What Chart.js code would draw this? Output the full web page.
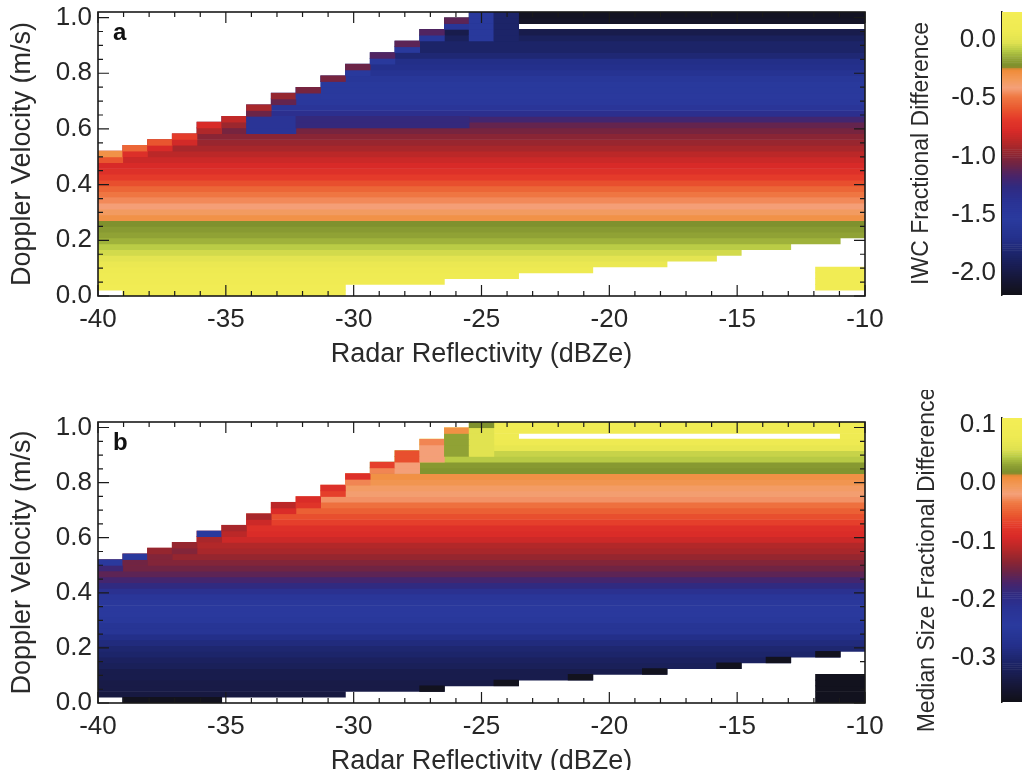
<!DOCTYPE html>
<html>
<head>
<meta charset="utf-8">
<title>IWC and median size fractional difference</title>
<script src="https://cdn.jsdelivr.net/npm/chart.js@4.4.1/dist/chart.umd.min.js"></script>
<style>
  html, body { margin: 0; padding: 0; background: #fff; }
  body { width: 1022px; height: 770px; overflow: hidden; position: relative; }
  canvas { position: absolute; }
</style>
</head>
<body>
<canvas id="heatA" width="900" height="380" style="left:0;top:0"></canvas>
<canvas id="barA" width="150" height="380" style="left:890px;top:0"></canvas>
<canvas id="heatB" width="900" height="380" style="left:0;top:410px"></canvas>
<canvas id="barB" width="150" height="380" style="left:890px;top:390px"></canvas>
<script>
// reflectivity bins (dBZe), one column each, spread over the -40..-10 axis
const dbzBins = [-40, -39, -38, -37, -36, -35, -34, -33, -32, -31, -30, -29, -28, -27, -26, -25,
                 -24, -23, -22, -21, -20, -19, -18, -17, -16, -15, -14, -13, -12, -11, -10];
const dbzRange = [-40, -10];
// doppler velocity bins: 49 rows from 0 to 1.02 m/s
const velRange = [0, 1.02];
const rowCount = 49;

const xTicks = [-40, -35, -30, -25, -20, -15, -10];
const yTicks = [0, 0.2, 0.4, 0.6, 0.8, 1.0];
const iwcTicks = [0.0, -0.5, -1.0, -1.5, -2.0];
const sizeTicks = [0.1, 0.0, -0.1, -0.2, -0.3];
const iwcRange = [-2.19, 0.24];
const sizeRange = [-0.375, 0.112];

// panel a: IWC fractional difference, one value per velocity row (bottom to top)
const iwcRows = [0.15, 0.15, 0.13, 0.11, 0.08, 0.05, 0.0, -0.05, -0.09, -0.14, -0.17, -0.19, -0.22,
  -0.30, -0.36, -0.42, -0.46, -0.50, -0.55, -0.62, -0.68, -0.74, -0.78, -0.82, -0.87, -0.92, -0.96,
  -1.00, -1.05, -1.10, -1.20, -1.35, -1.45, -1.50, -1.52, -1.55, -1.55, -1.58, -1.65, -1.70, -1.72,
  -1.80, -1.85, -1.85, -1.90, -1.97, -2.00, -2.12, -2.14];
// highest / lowest filled row of every column (row counts)
const iwcTop = [25, 26, 27, 28, 30, 31, 33, 35, 36, 38, 40, 42, 44, 46, 48,
  49, 49, 49, 49, 49, 49, 49, 49, 49, 49, 49, 49, 49, 49, 49, 49];
const iwcBottom = [1, 0, 0, 0, 0, 0, 0, 0, 0, 0, 2, 2, 2, 2, 3, 3, 3, 4, 4, 4, 5, 5, 5, 6, 6, 7, 8, 8, 9, 9, 10];
// values of the top cell and the one below it along the upper edge
const iwcCap = [-0.30, -0.55, -0.60, -0.68, -0.78, -0.85, -0.92, -0.97, -1.05, -1.05, -1.08, -1.15, -1.12, -1.15, -1.12,
  null, null, null, null, null, null, null, null, null, null, null, null, null, null, null, null];
const iwcCap2 = [-0.60, -0.75, -0.78, -0.80, -0.90, -0.95, -1.08, -1.10, -1.50, -1.55, -1.55, -1.55, -1.55, -1.58, -1.60,
  null, null, null, null, null, null, null, null, null, null, null, null, null, null, null, null];
// [firstCol, lastCol, firstRow, lastRow, value]
const iwcPatches = [[6, 7, 28, 30, -1.42], [8, 14, 29, 30, -1.25], [15, 15, 44, 48, -1.55], [16, 16, 44, 48, -1.85]];
const iwcBlocks = [[29, 30, 1, 4, 0.15]];
// [firstCol, lastCol, row] with no data
const iwcGaps = [[17, 30, 46]];

// panel b: median size fractional difference
const sizeRows = [-0.345, -0.34, -0.335, -0.335, -0.33, -0.33, -0.32, -0.315, -0.305, -0.30, -0.29, -0.28,
  -0.26, -0.26, -0.25, -0.24, -0.24, -0.235, -0.23, -0.21, -0.19, -0.175, -0.16, -0.15, -0.14, -0.13,
  -0.12, -0.115, -0.10, -0.09, -0.085, -0.07, -0.06, -0.05, -0.04, -0.025, -0.015, -0.01, 0.0, 0.005,
  0.022, 0.025, 0.045, 0.05, 0.07, 0.08, 0.085, 0.09, 0.092];
const sizeTop = [25, 26, 27, 28, 30, 31, 33, 35, 36, 38, 40, 42, 44, 46, 48,
  49, 49, 49, 49, 49, 49, 49, 49, 49, 49, 49, 49, 49, 49, 49, 49];
const sizeBottom = [1, 0, 0, 0, 0, 1, 1, 1, 1, 1, 2, 2, 2, 2, 3, 3, 3, 4, 4, 4, 5, 5, 5, 6, 6, 6, 7, 7, 8, 8, 9];
const sizeCap = [-0.24, -0.24, -0.13, -0.13, -0.24, -0.12, -0.12, -0.11, -0.09, -0.085, -0.085, -0.07, -0.06, -0.03, 0.005, 0.02,
  null, null, null, null, null, null, null, null, null, null, null, null, null, null, null];
const sizeCap2 = [-0.18, -0.15, -0.14, -0.14, -0.12, -0.11, -0.10, -0.09, -0.08, -0.07, -0.03, -0.03, -0.06, -0.02, 0.03, 0.06,
  null, null, null, null, null, null, null, null, null, null, null, null, null, null, null];
const sizePatches = [[12, 12, 40, 41, -0.02], [13, 13, 42, 43, -0.02], [14, 14, 43, 45, 0.03], [15, 15, 43, 46, 0.06]];
const sizeBlocks = [[29, 30, 0, 4, -0.37]];
const sizeGaps = [[17, 29, 46]];
// columns whose lowest cell is near the colour-scale minimum
const sizeDarkBottom = [1, 2, 3, 4, 13, 16, 19, 22, 25, 27, 29];
const sizeDarkValue = -0.37;

// colour table, bottom (0) to top (1)
const cmapStops = [
  [0.00, '#111118'], [0.04, '#15152e'], [0.09, '#181c4c'], [0.14, '#1c2468'], [0.20, '#24308c'],
  [0.27, '#2a3a9e'], [0.33, '#2a3294'], [0.38, '#302a80'], [0.42, '#4a2468'], [0.46, '#6e2444'],
  [0.50, '#922630'], [0.54, '#b82828'], [0.58, '#d82a28'], [0.62, '#e43a2a'], [0.66, '#ea5a30'],
  [0.70, '#f07a44'], [0.73, '#f4a07a'], [0.76, '#f29a5a'], [0.795, '#f08a36'], [0.805, '#7a8c2c'],
  [0.83, '#8ea034'], [0.86, '#b4c844'], [0.89, '#e0e250'], [0.93, '#eeea52'], [1.00, '#f4ee56']
];

function hexRgb(h) {
  return [1, 3, 5].map(i => parseInt(h.substr(i, 2), 16));
}

function cmap(t) {
  t = Math.max(0, Math.min(1, t));
  for (let i = 1; i < cmapStops.length; i++) {
    if (t <= cmapStops[i][0]) {
      const t0 = cmapStops[i - 1][0], t1 = cmapStops[i][0];
      const c0 = hexRgb(cmapStops[i - 1][1]), c1 = hexRgb(cmapStops[i][1]);
      const f = (t - t0) / (t1 - t0);
      return 'rgb(' + c0.map((c, n) => Math.round(c + (c1[n] - c) * f)).join(',') + ')';
    }
  }
  return cmapStops[cmapStops.length - 1][1];
}

const colEdge = k => dbzRange[0] + k * (dbzRange[1] - dbzRange[0]) / dbzBins.length;
const rowCenter = j => velRange[0] + (j + 0.5) * (velRange[1] - velRange[0]) / rowCount;

// turn a grid of values into horizontal runs of equal value
function runs(grid, keep) {
  const out = [];
  grid.forEach((row, j) => {
    let k = 0;
    while (k < row.length) {
      if (row[k] === null || !keep(j, k)) { k++; continue; }
      let e = k;
      while (e + 1 < row.length && row[e + 1] === row[k] && keep(j, e + 1)) e++;
      out.push({ x: [colEdge(k), colEdge(e + 1)], y: rowCenter(j), v: row[k] });
      k = e + 1;
    }
  });
  return out;
}

function buildCells(p) {
  const base = [];
  for (let j = 0; j < rowCount; j++) {
    base.push(dbzBins.map((_, k) => (j >= p.bottom[k] && j < p.top[k]) ? p.rows[j] : null));
  }
  p.gaps.forEach(([k0, k1, j]) => { for (let k = k0; k <= k1; k++) base[j][k] = null; });
  p.blocks.forEach(([k0, k1, j0, j1, v]) => {
    for (let j = j0; j <= j1; j++) for (let k = k0; k <= k1; k++) base[j][k] = v;
  });
  const full = base.map(r => r.slice());
  dbzBins.forEach((_, k) => {
    const t = p.top[k];
    if (p.cap[k] !== null) full[t - 1][k] = p.cap[k];
    if (p.cap2[k] !== null) full[t - 2][k] = p.cap2[k];
  });
  p.patches.forEach(([k0, k1, j0, j1, v]) => {
    for (let j = j0; j <= j1; j++) for (let k = k0; k <= k1; k++) if (base[j][k] !== null) full[j][k] = v;
  });
  (p.darkBottom || []).forEach(k => { full[p.bottom[k]][k] = p.darkValue; });
  return {
    body: runs(base, () => true),
    over: runs(full, (j, k) => full[j][k] !== base[j][k])
  };
}

Chart.defaults.font.family = '"Liberation Sans", Arial, sans-serif';
Chart.defaults.color = '#262626';

// box, inward ticks on all four sides and the panel letter
const panelFrame = {
  id: 'panelFrame',
  afterDatasetsDraw(chart, args, opts) {
    const { ctx, chartArea: a, scales: { x, y } } = chart;
    ctx.save();
    ctx.strokeStyle = '#1a1a1a';
    ctx.lineWidth = 1.2;
    ctx.beginPath();
    for (let v = dbzRange[0]; v <= dbzRange[1]; v++) {
      const px = x.getPixelForValue(v);
      const len = v % 5 === 0 ? 11 : 5;
      ctx.moveTo(px, a.bottom); ctx.lineTo(px, a.bottom - len);
      ctx.moveTo(px, a.top); ctx.lineTo(px, a.top + len);
    }
    for (let i = 0; i <= 20; i++) {
      const py = y.getPixelForValue(i * 0.05);
      const len = i % 4 === 0 ? 11 : 5;
      ctx.moveTo(a.left, py); ctx.lineTo(a.left + len, py);
      ctx.moveTo(a.right, py); ctx.lineTo(a.right - len, py);
    }
    ctx.stroke();
    ctx.lineWidth = 1.6;
    ctx.strokeRect(a.left, a.top, a.right - a.left, a.bottom - a.top);
    ctx.fillStyle = '#111';
    ctx.font = 'bold 24px "Liberation Sans", Arial, sans-serif';
    ctx.fillText(opts.letter, a.left + 15, a.top + 28);
    ctx.restore();
  }
};

function heatmap(id, p, letter, pad) {
  const cells = buildCells(p);
  const col = v => cmap((v - p.range[0]) / (p.range[1] - p.range[0]));
  new Chart(document.getElementById(id), {
    type: 'bar',
    data: {
      datasets: [
        { data: cells.body, backgroundColor: cells.body.map(c => col(c.v)), order: 2 },
        { data: cells.over, backgroundColor: cells.over.map(c => col(c.v)), order: 1 }
      ]
    },
    options: {
      indexAxis: 'y',
      responsive: false,
      animation: false,
      events: [],
      grouped: false,
      barPercentage: 1,
      categoryPercentage: 1,
      borderWidth: 0,
      layout: { padding: pad },
      plugins: { legend: { display: false }, tooltip: { enabled: false }, panelFrame: { letter } },
      scales: {
        x: {
          type: 'linear', min: dbzRange[0], max: dbzRange[1], bounds: 'data',
          afterBuildTicks: s => { s.ticks = xTicks.map(v => ({ value: v })); },
          afterFit: s => { s.height = 75; },
          grid: { display: false, drawTicks: false },
          border: { display: false },
          ticks: { font: { size: 26 }, padding: 8, maxRotation: 0, autoSkip: false, callback: v => String(v) },
          title: { display: true, text: 'Radar Reflectivity (dBZe)', font: { size: 27 }, color: '#2a2a2a', padding: 0 }
        },
        y: {
          type: 'linear', min: velRange[0], max: velRange[1], bounds: 'data', offset: false,
          afterBuildTicks: s => { s.ticks = yTicks.map(v => ({ value: v })); },
          afterFit: s => { s.width = 98; },
          grid: { display: false, drawTicks: false, offset: false },
          border: { display: false },
          ticks: { font: { size: 26, lineHeight: 0.4 }, padding: 6, autoSkip: false, callback: v => v.toFixed(1) },
          title: { display: true, text: 'Doppler Velocity (m/s)', font: { size: 27 }, color: '#2a2a2a', padding: { top: 6, bottom: 0 } }
        }
      }
    },
    plugins: [panelFrame]
  });
}

function colorbar(id, range, ticks, title, titlePad, pad) {
  const n = 140;
  const d = (range[1] - range[0]) / n;
  const datasets = [];
  for (let i = 0; i < n; i++) {
    datasets.push({
      data: [[range[0] + i * d, range[0] + (i + 1) * d]],
      backgroundColor: cmap((i + 0.5) / n)
    });
  }
  new Chart(document.getElementById(id), {
    type: 'bar',
    data: { labels: [''], datasets },
    options: {
      responsive: false,
      animation: false,
      events: [],
      grouped: false,
      barPercentage: 1,
      categoryPercentage: 1,
      borderWidth: 0,
      layout: { padding: pad },
      plugins: { legend: { display: false }, tooltip: { enabled: false } },
      scales: {
        x: { display: false },
        y: {
          type: 'linear', position: 'left', min: range[0], max: range[1], bounds: 'data',
          afterBuildTicks: s => { s.ticks = ticks.map(v => ({ value: v })); },
          afterFit: s => { s.width = 112; },
          grid: { display: false, drawTicks: false },
          border: { display: true, color: '#1a1a1a', width: 1.5 },
          ticks: { font: { size: 26, lineHeight: 0.4 }, padding: 6, autoSkip: false, callback: v => v.toFixed(1) },
          title: { display: true, text: title, font: { size: 23 }, color: '#2a2a2a', padding: { top: titlePad, bottom: 0 } }
        }
      }
    }
  });
}

heatmap('heatA', {
  rows: iwcRows, top: iwcTop, bottom: iwcBottom, cap: iwcCap, cap2: iwcCap2,
  patches: iwcPatches, blocks: iwcBlocks, gaps: iwcGaps, range: iwcRange
}, 'a', { left: 0, right: 35, top: 12, bottom: 9 });

heatmap('heatB', {
  rows: sizeRows, top: sizeTop, bottom: sizeBottom, cap: sizeCap, cap2: sizeCap2,
  patches: sizePatches, blocks: sizeBlocks, gaps: sizeGaps, range: sizeRange,
  darkBottom: sizeDarkBottom, darkValue: sizeDarkValue
}, 'b', { left: 0, right: 35, top: 12, bottom: 12 });

colorbar('barA', iwcRange, iwcTicks, 'IWC Fractional Difference', 18, { left: 0, right: 0, top: 12, bottom: 85 });
colorbar('barB', sizeRange, sizeTicks, 'Median Size Fractional Difference', 24, { left: 0, right: 0, top: 28, bottom: 68 });
</script>
</body>
</html>
